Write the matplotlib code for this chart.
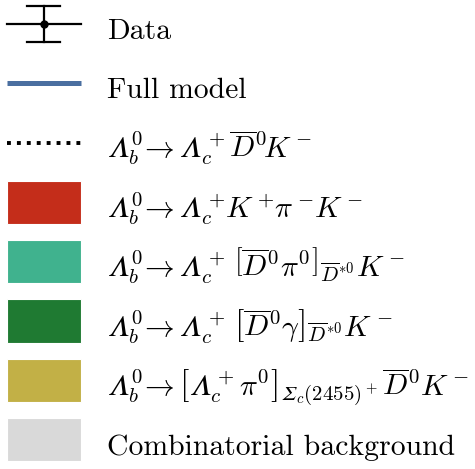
import matplotlib
matplotlib.use("Agg")
import matplotlib.pyplot as plt
from matplotlib.lines import Line2D
from matplotlib.patches import Patch, Rectangle
from matplotlib.legend_handler import HandlerBase

plt.rcParams['mathtext.fontset'] = 'cm'
plt.rcParams['font.family'] = 'serif'
plt.rcParams['font.serif'] = ['cmr10']
plt.rcParams['axes.unicode_minus'] = False

L = "\U0001D6EC"   # italic capital Lambda
S = "\U0001D6F4"   # italic capital Sigma
labels = [
    r"Data",
    r"Full model",
    rf"${L}_b^0 \!\rightarrow {L}_c^+ \overline{{D}}^0\! K^-$",
    rf"${L}_b^0 \!\rightarrow {L}_c^+\! K^+\!\pi^-\! K^-$",
    rf"${L}_b^0 \!\rightarrow {L}_c^+\, \left[\overline{{D}}^0\pi^0\right]_{{\overline{{D}}^{{*0}}}} K^-$",
    rf"${L}_b^0 \!\rightarrow {L}_c^+\, \left[\overline{{D}}^0\gamma\right]_{{\overline{{D}}^{{*0}}}} K^-$",
    rf"${L}_b^0 \!\rightarrow \left[{L}_c^+\pi^0\right]_{{{S}_c(2455)^+}} \overline{{D}}^0 K^-$",
    r"Combinatorial background",
]
line_color = "#4a6fa0"
patch_colors = ["#c42d1a", "#40b28e", "#1f7a32", "#c2b046", "#d9d9d9"]

FS = 21.4                 # legend font size (pt)
YC = 10.8                 # handle centre above text baseline (pt)
PATCH_H = 31.0            # patch height (pt)
ROW = 42.8                # row pitch (pt)
HANDLE_W = 53.3           # handle width (pt)


class DataHandler(HandlerBase):
    def create_artists(self, legend, orig_handle, xdescent, ydescent,
                       width, height, fontsize, trans):
        x0, x1 = -xdescent, width - xdescent
        cx = (x0 + x1) / 2
        hh = 13.1
        cw = 11.9
        lw = 1.6
        arts = [
            Line2D([x0, x1], [YC, YC], color='black', lw=lw),
            Line2D([cx, cx], [YC - hh, YC + hh], color='black', lw=lw),
            Line2D([cx - cw, cx + cw], [YC + hh, YC + hh], color='black', lw=lw),
            Line2D([cx - cw, cx + cw], [YC - hh, YC - hh], color='black', lw=lw),
            Line2D([cx], [YC], marker='o', ms=5, color='black', lw=0),
        ]
        for a in arts:
            a.set_transform(trans)
        return arts


class LineHandler(HandlerBase):
    def create_artists(self, legend, orig_handle, xdescent, ydescent,
                       width, height, fontsize, trans):
        ln = Line2D([-xdescent, width - xdescent], [YC, YC])
        ln.update_from(orig_handle)
        ln.set_transform(trans)
        return [ln]


class PatchHandler(HandlerBase):
    def create_artists(self, legend, orig_handle, xdescent, ydescent,
                       width, height, fontsize, trans):
        r = Rectangle((-xdescent, YC - PATCH_H / 2), width, PATCH_H,
                      facecolor=orig_handle.get_facecolor(),
                      edgecolor=orig_handle.get_edgecolor(),
                      linewidth=orig_handle.get_linewidth())
        r.set_transform(trans)
        return [r]


class DataKey:
    pass


fig = plt.figure(figsize=(4.75, 4.69), dpi=100)
handles = [DataKey(),
           Line2D([], [], color=line_color, lw=3.6, solid_capstyle='butt'),
           Line2D([], [], color='black', lw=2.8, linestyle=(0, (1.0, 1.55)),
                  dash_capstyle='butt')]
for c in patch_colors:
    handles.append(Patch(facecolor=c, edgecolor='white', linewidth=0.8))

hh = (ROW / FS - 0.245) / 0.65
leg = fig.legend(handles, labels, loc='upper left', bbox_to_anchor=(6.8 / 475, 1.0),
                 frameon=False, fontsize=FS, handlelength=HANDLE_W / FS,
                 handleheight=hh, handletextpad=18.7 / FS, labelspacing=0.0,
                 borderaxespad=0.0, borderpad=0.1 / FS,
                 handler_map={DataKey: DataHandler(), Line2D: LineHandler(),
                              Patch: PatchHandler()})
fig.savefig("out.png", dpi=100)
